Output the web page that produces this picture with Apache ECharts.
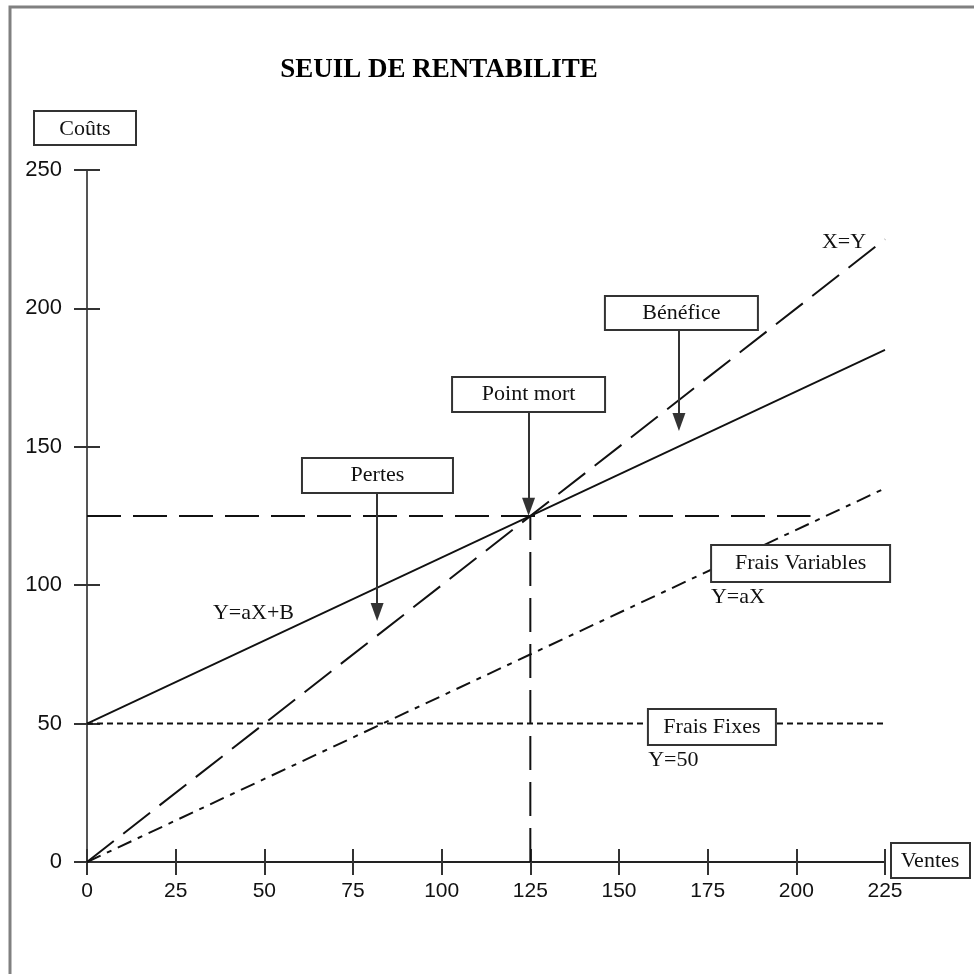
<!DOCTYPE html>
<html>
<head>
<meta charset="utf-8">
<script src="https://cdn.jsdelivr.net/npm/echarts@6/dist/echarts.min.js"></script>
<style>html,body{margin:0;padding:0;background:#fff}#c{width:974px;height:974px}</style>
</head>
<body>
<div id="c"></div>
<script>
// ---- data ----
const titleText = 'SEUIL DE RENTABILITE';
const yAxisName = 'Coûts';
const xAxisName = 'Ventes';
const xTickLabels = ['0','25','50','75','100','125','150','175','200','225'];
const yTickLabels = ['0','50','100','150','200','250'];
const lineXY = [[0,0],[225,225]];          // X=Y
const lineTotal = [[0,50],[225,185]];      // Y=aX+B
const lineVar = [[0,0],[225,135]];         // Y=aX
const lineFixed = [[0,50],[225,50]];       // Y=50
const breakEvenH = [[0,125],[204,125]];
const breakEvenV = [[125,0],[125,125]];
const boxLabels = ['Pertes','Point mort','Bénéfice','Frais Variables','Frais Fixes'];
const boxAnchors = [[81.9,139.6],[124.5,168.9],[167.6,198.3],[201.2,107.8],[176.2,48.8]];
const arrowFrom = [[81.8,133.3],[124.5,162.6],[166.9,191.8]];
const arrowTo = [[81.8,90.3],[124.5,128.3],[166.9,159.0]];
const lineLabels = ['X=Y','Y=aX+B','Y=aX','Y=50'];
const lineLabelAnchors = [[207.2,224.0],[35.5,90.0],[175.9,95.7],[158.2,36.8]];

// ---- styles ----
const boxSizes = [[151,35],[153,35],[153,34],[179,37],[128,36]];
const serif = '"Liberation Serif","Times New Roman",serif';
const sans = '"Liberation Sans",Arial,sans-serif';
const ink = '#111';

const chart = echarts.init(document.getElementById('c'));

function axisBase(labels, step, isX, inside) {
  return {
    type: 'value', min: 0, max: step * (labels.length - 1), interval: step,
    axisLine: { show: !inside, lineStyle: { color: isX ? '#222' : '#555', width: 2 } },
    axisTick: { show: true, inside: inside, length: 13, lineStyle: { color: '#333', width: 2 } },
    axisLabel: {
      show: !inside, margin: isX ? 19 : 25, fontSize: isX ? 21 : 22, fontFamily: sans, color: ink,
      showMaxLabel: true, showMinLabel: true,
      formatter: v => labels[Math.round(v / step)]
    },
    splitLine: { show: false }
  };
}
const xa0 = axisBase(xTickLabels, 25, true, false); xa0.position = 'bottom';
const xa1 = axisBase(xTickLabels, 25, true, true); xa1.position = 'bottom';
const ya0 = axisBase(yTickLabels, 50, false, false); ya0.position = 'left';
const ya1 = axisBase(yTickLabels, 50, false, true); ya1.position = 'left';

function lineSeries(name, data, type, width) {
  return {
    name, type: 'line', data, xAxisIndex: 0, yAxisIndex: 0,
    symbol: 'none', silent: true, animation: false, clip: false, z: 3,
    lineStyle: { color: '#111', width: width || 2, type: type }
  };
}

const option = {
  animation: false,
  grid: { left: 87, top: 170, right: 89, bottom: 112 },
  xAxis: [xa0, xa1],
  yAxis: [ya0, ya1],
  graphic: [
    { type: 'rect', shape: { x: 10, y: 7, width: 1100, height: 1100 }, style: { fill: 'none', stroke: '#808080', lineWidth: 3 }, z: 100 },
    { type: 'text', x: 439, y: 70, style: { text: titleText, font: 'bold 27px ' + serif, fill: '#000', align: 'center', verticalAlign: 'middle' } },
    { type: 'rect', shape: { x: 34, y: 111, width: 102, height: 34 }, style: { fill: '#fff', stroke: '#333', lineWidth: 2 } },
    { type: 'text', x: 85, y: 129, style: { text: yAxisName, font: '22px ' + serif, fill: ink, align: 'center', verticalAlign: 'middle' } },
    { type: 'rect', shape: { x: 891, y: 843, width: 79, height: 35 }, style: { fill: '#fff', stroke: '#333', lineWidth: 2 } },
    { type: 'text', x: 930, y: 861, style: { text: xAxisName, font: '22px ' + serif, fill: ink, align: 'center', verticalAlign: 'middle' } }
  ],
  series: [
    lineSeries('X=Y', lineXY, [34, 12], 2),
    lineSeries('Y=aX+B', lineTotal, 'solid', 1.8),
    lineSeries('Y=aX', lineVar, [15, 7, 5, 7], 2),
    lineSeries('Y=50', lineFixed, [6, 4], 2),
    lineSeries('h125', breakEvenH, [34, 12], 2),
    lineSeries('v125', breakEvenV, [34, 12], 2),
    {
      name: 'arrows', type: 'line', data: [], symbol: 'none', silent: true, z: 6,
      markLine: {
        silent: true, animation: false, symbol: ['none', 'triangle'],
        lineStyle: { color: '#333', width: 2, type: 'solid' },
        label: { show: false },
        data: arrowFrom.map((f, i) => [
          { coord: f },
          { coord: arrowTo[i], symbol: 'triangle', symbolSize: [13, 18] }
        ])
      }
    },
    {
      name: 'boxes', type: 'scatter', clip: false, silent: true, z: 10,
      symbolSize: 0.1,
      itemStyle: { color: 'rgba(0,0,0,0)', opacity: 1 },
      data: boxLabels.map((n, i) => ({
        name: n, value: boxAnchors[i],
        label: { width: boxSizes[i][0] - 2, height: boxSizes[i][1] - 2, lineHeight: boxSizes[i][1] - 2 }
      })),
      label: {
        show: true, position: 'inside', formatter: '{b}', fontFamily: serif, fontSize: 22, color: ink,
        align: 'center', verticalAlign: 'middle', opacity: 1,
        backgroundColor: '#fff', borderColor: '#333', borderWidth: 2, padding: 0
      }
    },
    {
      name: 'lineLabels', type: 'scatter', clip: false, silent: true, z: 10,
      symbolSize: 0.1,
      data: lineLabels.map((n, i) => ({ name: n, value: lineLabelAnchors[i] })),
      itemStyle: { color: 'rgba(0,0,0,0)', opacity: 1 },
      label: { show: true, position: 'right', distance: 0, formatter: '{b}', fontFamily: serif, fontSize: 22, color: ink, opacity: 1 }
    }
  ]
};
chart.setOption(option);
</script>
</body>
</html>
